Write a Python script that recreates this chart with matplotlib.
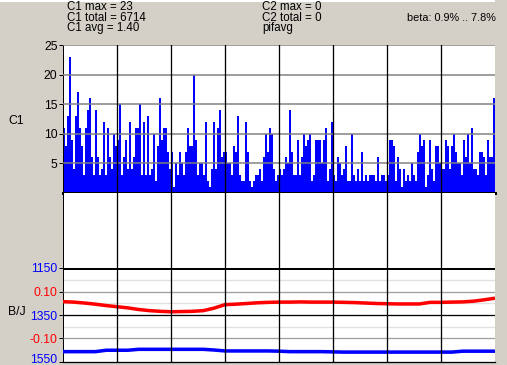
import numpy as np
import matplotlib
matplotlib.use("Agg")
import matplotlib.pyplot as plt
import matplotlib.transforms as mtransforms

# ---------------- data ----------------
c1_counts = [
    11, 8, 13, 23, 9, 4, 13, 17, 11, 8, 3, 11, 14, 16, 6, 3, 14, 6, 3, 4, 12, 3, 11, 6, 4, 10, 8,
    9, 15, 3, 6, 9, 4, 12, 4, 6,
    11, 11, 15, 3, 12, 3, 13, 3, 4, 10, 2, 8, 16, 9, 11, 11, 7, 4,
    7, 1, 5, 3, 7, 5, 3, 7, 11, 8, 8, 20, 9, 3, 5, 5, 3, 12,
    2, 1, 4, 12, 4, 11, 14, 6, 7,
    7, 5, 5, 3, 8, 7, 13, 3, 2, 2, 12, 7, 2, 1, 2, 3, 3, 4, 2, 6, 10, 7, 11, 10, 4, 2, 3,
    4, 3, 4, 6, 5, 14, 7, 3, 3, 9, 3, 6, 10, 8, 9, 10, 2, 3, 9, 9, 9, 5, 9, 11, 2, 4, 12,
    3, 2, 6, 5, 3, 4, 8, 2, 2,
    10, 3, 2, 4, 2, 7, 2, 3, 2, 3, 3, 3, 2, 6, 2, 3, 3, 2,
    3, 9, 9, 8, 2, 6, 4, 1, 4, 2, 3, 2, 5, 3, 2, 7, 10, 8,
    9, 1, 3, 9, 4, 2, 8, 8, 5, 4,
    4, 9, 8, 4, 8, 10, 7, 5, 5, 3, 9, 6, 10, 5, 11, 4, 4, 3, 7, 7, 6, 3, 9, 6, 6, 16,
]

red_ratio = [
    0.058, 0.056, 0.052, 0.047, 0.041, 0.036, 0.031, 0.024, 0.019, 0.016,
    0.014, 0.015, 0.016, 0.019, 0.030, 0.045, 0.047, 0.050, 0.053, 0.055,
    0.056, 0.056, 0.057, 0.056, 0.056, 0.056, 0.055, 0.054, 0.052, 0.050,
    0.049, 0.048, 0.048, 0.048, 0.055, 0.055, 0.056, 0.057, 0.060, 0.066,
    0.073,
]

blue_level = [
    1506, 1506, 1506, 1506, 1500, 1500, 1500, 1496, 1496, 1496,
    1496, 1496, 1496, 1496, 1499, 1503, 1503, 1503, 1503, 1503,
    1504, 1506, 1506, 1506, 1506, 1507, 1508, 1508, 1508, 1508,
    1508, 1508, 1508, 1508, 1508, 1508, 1508, 1504, 1504, 1504,
    1504,
]

c1_ticks = [5, 10, 15, 20, 25]
blue_ticks = [1150, 1350, 1550]
blue_light = [1200, 1300, 1400, 1500]
red_ticks = [0.10, -0.10]
red_tick_labels = ["0.10", "-0.10"]

info_left = ["C1 max = 23", "C1 total = 6714", "C1 avg = 1.40"]
info_mid = ["C2 max = 0", "C2 total = 0", "pifavg"]
info_right = "beta: 0.9% .. 7.8%"

# ---------------- layout ----------------
W, H = 507, 365
BG = "#d4d0c8"
plt.rcParams["font.family"] = ["Liberation Sans", "DejaVu Sans"]
FS = 8.3
TFS = 8.8

fig = plt.figure(figsize=(W / 100, H / 100), dpi=100, facecolor=BG)


def rect(x0, y0, x1, y1):
    return [x0 / W, 1 - y1 / H, (x1 - x0) / W, (y1 - y0) / H]


# thin white strip at top
fig.patches.append(plt.Rectangle((0, 1 - 2 / H), 495 / W, 2 / H, transform=fig.transFigure,
                                 facecolor="white", edgecolor="none"))

L, R = 63, 495
ax_top = fig.add_axes(rect(L, 45, R, 193))
ax_gap = fig.add_axes(rect(L, 193, R, 268))
ax_bot = fig.add_axes(rect(L, 268, R, 362))
ax_red = ax_bot.twinx()

n = len(c1_counts)
x = np.arange(n)
ndiv = 8
vlines = np.linspace(0, n, ndiv + 1)[1:-1]

px = 0.72  # 1 pixel in points

# --- top panel ---
ax_top.bar(x, c1_counts, width=1.0, align="edge", color="#0000ff", linewidth=0, zorder=2)
ax_top.set_xlim(0, n)
ax_top.set_ylim(0, 25)
for v in c1_ticks:
    ax_top.axhline(v, color="#808080", lw=1.5 * px, zorder=3)
for v in vlines:
    ax_top.axvline(v, color="black", lw=1.3 * px, zorder=4)
ax_top.set_yticks(c1_ticks)
ax_top.set_yticklabels([str(t) for t in c1_ticks])
ax_top.set_xticks([])

# --- gap panel ---
ax_gap.set_xlim(0, n)
ax_gap.set_ylim(0, 1)
for v in vlines:
    ax_gap.axvline(v, color="black", lw=1.3 * px)
ax_gap.set_xticks([])
ax_gap.set_yticks([])

# --- bottom panel ---
xs = np.linspace(0, n, len(red_ratio))
ax_bot.set_xlim(0, n)
ax_bot.set_ylim(1550, 1150)
for v in blue_light:
    ax_bot.axhline(v, color="#e0e0e0", lw=1.3 * px, zorder=1)
ax_bot.axhline(1350, color="black", lw=1.3 * px, zorder=1)
ax_bot.axhline(1150, color="black", lw=3 * px, zorder=5)
ax_bot.plot(np.linspace(0, n, len(blue_level)), blue_level, color="#0000ff", lw=3.5 * px, zorder=3,
            solid_capstyle="butt")
ax_bot.set_yticks(blue_ticks)
ax_bot.set_yticklabels([str(t) for t in blue_ticks], color="#0000ff")
ax_bot.set_xticks([])

ax_red.set_ylim(-0.2043, 0.2043)
for v in red_ticks:
    ax_red.axhline(v, color="#a0a0a0", lw=1.3 * px, zorder=1)
ax_red.plot(xs, red_ratio, color="#ff0000", lw=3.5 * px, zorder=3, solid_capstyle="butt")
for v in vlines:
    ax_red.axvline(v, color="black", lw=1.3 * px, zorder=6)
ax_red.yaxis.tick_left()
ax_red.set_yticks(red_ticks)
ax_red.set_yticklabels(red_tick_labels, color="#ff0000")

for ax in (ax_top, ax_gap, ax_bot, ax_red):
    ax.set_facecolor("white")
    for s in ax.spines.values():
        s.set_visible(False)
    ax.tick_params(axis="y", length=3, width=px, pad=1, labelsize=TFS, direction="out")
ax_red.patch.set_visible(False)
ax_bot.set_zorder(1)
ax_red.set_zorder(2)

# keep the bottom "1550" label inside the figure
lab = ax_bot.get_yticklabels()[-1]
lab.set_transform(lab.get_transform() + mtransforms.ScaledTranslation(0, 3.5 / 100, fig.dpi_scale_trans))

ax_top.spines["left"].set_visible(True)
ax_top.spines["left"].set_linewidth(px)
ax_top.spines["bottom"].set_visible(True)
ax_top.spines["bottom"].set_linewidth(3 * px)
ax_gap.spines["left"].set_visible(True)
ax_gap.spines["left"].set_linewidth(px)
ax_bot.spines["left"].set_visible(True)
ax_bot.spines["left"].set_linewidth(px)
ax_bot.spines["bottom"].set_visible(True)
ax_bot.spines["bottom"].set_linewidth(1.3 * px)

# side labels
fig.text(8 / W, 1 - 121 / H, "C1", fontsize=TFS, ha="left", va="center")
fig.text(8 / W, 1 - 312 / H, "B/J", fontsize=TFS, ha="left", va="center")

# info texts
for i, (a, b) in enumerate(zip(info_left, info_mid)):
    yy = 1 - (7.5 + 10.5 * i) / H
    fig.text(67 / W, yy, a, fontsize=FS, ha="left", va="center")
    fig.text(262 / W, yy, b, fontsize=FS, ha="left", va="center")
fig.text(496 / W, 1 - 18 / H, info_right, fontsize=FS - 0.5, ha="right", va="center")

fig.savefig("out.png", dpi=100, facecolor=BG)
